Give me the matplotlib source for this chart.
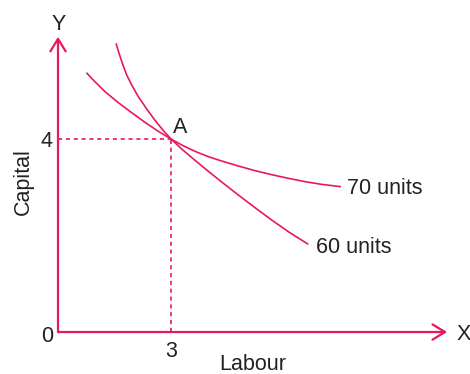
import matplotlib
matplotlib.use("Agg")
import matplotlib.pyplot as plt

plt.rcParams['font.family'] = ['Liberation Sans', 'DejaVu Sans']

# Isoquant data (labour, capital)
labour_70 = [0.753, 0.983, 1.248, 1.602, 1.956, 2.310, 2.664, 3.0, 3.284, 3.638,
             3.992, 4.345, 4.788, 5.230, 5.673, 6.115, 6.558, 7.000, 7.513]
capital_70 = [5.375, 5.185, 4.981, 4.753, 4.546, 4.345, 4.159, 4.0, 3.876, 3.744,
              3.634, 3.544, 3.440, 3.344, 3.261, 3.185, 3.116, 3.060, 3.012]
labour_60 = [1.540, 1.620, 1.709, 1.824, 1.956, 2.133, 2.355, 2.576, 2.797,
             3.0, 3.284, 3.638, 3.992, 4.345, 4.788, 5.230, 5.673, 6.115, 6.646]
capital_60 = [5.983, 5.776, 5.568, 5.326, 5.119, 4.877, 4.622, 4.387, 4.173,
              4.0, 3.793, 3.558, 3.330, 3.109, 2.839, 2.577, 2.321, 2.079, 1.817]
point_A = (3, 4)
tick_labels = {"x": "3", "y": "4", "origin": "0"}
curve_labels = ["70 units", "60 units"]

RED = '#e8185c'
TXT = '#222222'
FS = 15.5

fig = plt.figure(figsize=(4.7, 3.74), dpi=100)
ax = fig.add_axes([0, 0, 1, 1])
ax.set_xlim(-1.540, 10.937)
ax.set_ylim(-0.870, 6.881)
ax.axis('off')

# axes with open arrowheads
arrow = dict(arrowstyle='->,head_length=0.9,head_width=0.55', color=RED, lw=1.6,
             shrinkA=0, shrinkB=0)
ax.annotate('', xy=(10.33, 0), xytext=(0, 0), arrowprops=arrow, annotation_clip=False)
ax.annotate('', xy=(0, 6.12), xytext=(0, 0), arrowprops=arrow, annotation_clip=False)

# curves
ax.plot(labour_70, capital_70, color=RED, lw=1.2, solid_capstyle='butt',
        solid_joinstyle='round')
ax.plot(labour_60, capital_60, color=RED, lw=1.2, solid_capstyle='butt',
        solid_joinstyle='round')

# dotted guides
ax.plot([0, point_A[0]], [point_A[1], point_A[1]], color=RED, lw=1.2,
        linestyle=(0, (2.5, 2.2)))
ax.plot([point_A[0], point_A[0]], [0, point_A[1]], color=RED, lw=1.2,
        linestyle=(0, (2.5, 2.2)))

# texts
ax.text(0.013, 6.259, 'Y', fontsize=FS, color=TXT, ha='center', va='baseline')
ax.text(10.59, -0.166, 'X', fontsize=FS, color=TXT, ha='left', va='baseline')
ax.text(-0.159, 3.840, tick_labels["y"], fontsize=FS, color=TXT, ha='right', va='baseline')
ax.text(-0.133, -0.207, tick_labels["origin"], fontsize=FS, color=TXT, ha='right', va='baseline')
ax.text(3.0, -0.518, tick_labels["x"], fontsize=FS, color=TXT, ha='center', va='baseline')
ax.text(5.18, -0.785, 'Labour', fontsize=FS, color=TXT, ha='center', va='baseline')
ax.text(-0.916, 3.109, 'Capital', fontsize=FS, color=TXT, ha='center', va='center',
        rotation=90)
ax.text(3.053, 4.124, 'A', fontsize=FS, color=TXT, ha='left', va='baseline')
ax.text(7.672, 2.860, curve_labels[0], fontsize=FS, color=TXT, ha='left', va='baseline')
ax.text(6.849, 1.631, curve_labels[1], fontsize=FS, color=TXT, ha='left', va='baseline')

fig.savefig('out.png', dpi=100)
